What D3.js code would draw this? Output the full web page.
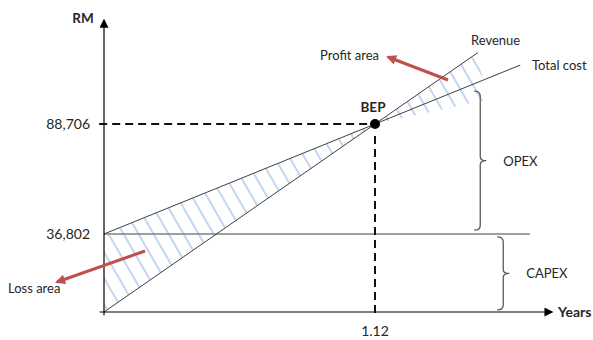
<!DOCTYPE html>
<html>
<head>
<meta charset="utf-8">
<script src="https://cdn.jsdelivr.net/npm/d3@7"></script>
<style>
  body { margin: 0; background: #fff; }
  text { font-family: Lato, "Liberation Sans", sans-serif; fill: #262626; }
</style>
</head>
<body>
<svg id="chart" width="593" height="340"></svg>
<script>
// values
var bepYear = 1.12;
var bepValue = 88706;
var capexValue = 36802;
var revenueYears = [0, 1.12, 1.545];
var revenueValues = [0, 88706, 122400];
var costYears = [0, 1.12, 1.72];
var costValues = [36802, 88706, 116500];
var capexLineYears = [0, 1.76];
var tickValuesY = [36802, 88706];
var tickLabelsY = ["36,802", "88,706"];
var tickValuesX = [1.12];
var tickLabelsX = ["1.12"];
var braceLabels = ["OPEX", "CAPEX"];
var braceSpans = [[38600, 104200], [1000, 35400]];
var braceYears = [1.555, 1.65];

var svg = d3.select("#chart");
var x = d3.scaleLinear().domain([0, 1.12]).range([104, 375]);
var y = d3.scaleLinear().domain([0, 88706]).range([312, 124]);

var line = d3.line().x(function(d) { return x(d[0]); }).y(function(d) { return y(d[1]); });
var revenue = d3.zip(revenueYears, revenueValues);
var cost = d3.zip(costYears, costValues);

var defs = svg.append("defs");
var pat = defs.append("pattern")
  .attr("id", "hatch")
  .attr("patternUnits", "userSpaceOnUse")
  .attr("width", 13).attr("height", 20)
  .attr("patternTransform", "rotate(-30)");
pat.append("line").attr("x1", 3).attr("y1", 0).attr("x2", 3).attr("y2", 20)
  .attr("stroke", "#8eb4e3").attr("stroke-width", 1.1);

function arrowMarker(id, color, w, h) {
  defs.append("marker")
    .attr("id", id)
    .attr("viewBox", "0 0 10 10")
    .attr("refX", 8).attr("refY", 5)
    .attr("markerUnits", "userSpaceOnUse")
    .attr("markerWidth", w).attr("markerHeight", h)
    .attr("orient", "auto")
    .append("path").attr("d", "M0,0L10,5L0,10z").attr("fill", color);
}
arrowMarker("axisArrow", "#000", 10, 9);
arrowMarker("redArrow", "#c0504d", 12, 10);

// hatched areas
var lossPoly = [[0, capexValue], [bepYear, bepValue], [0, 0]];
var profitPoly = [[bepYear, bepValue], [revenueYears[2], revenueValues[2]], [1.58, 100000]];
svg.append("path").attr("d", line(lossPoly) + "Z").attr("fill", "url(#hatch)");
svg.append("path").attr("d", line(profitPoly) + "Z").attr("fill", "url(#hatch)");

// capex line
svg.append("path")
  .attr("d", line(capexLineYears.map(function(t) { return [t, capexValue]; })))
  .attr("stroke", "#808080").attr("stroke-width", 1.5).attr("fill", "none");

// revenue and total cost
svg.append("path").attr("d", line(revenue)).attr("stroke", "#3f3f3f").attr("stroke-width", 1).attr("fill", "none");
svg.append("path").attr("d", line(cost)).attr("stroke", "#3f3f3f").attr("stroke-width", 1).attr("fill", "none");

// axes
svg.append("line").attr("x1", x(0)).attr("y1", y(-1500)).attr("x2", x(0)).attr("y2", y(137500))
  .attr("stroke", "#000").attr("stroke-width", 1.2).attr("marker-end", "url(#axisArrow)");
svg.append("line").attr("x1", x(-0.018)).attr("y1", y(0)).attr("x2", x(1.85)).attr("y2", y(0))
  .attr("stroke", "#000").attr("stroke-width", 1.2).attr("marker-end", "url(#axisArrow)");

// BEP dashes
svg.append("line").attr("x1", x(-0.02)).attr("y1", y(bepValue)).attr("x2", x(bepYear)).attr("y2", y(bepValue))
  .attr("stroke", "#111").attr("stroke-width", 2).attr("stroke-dasharray", "8,5");
svg.append("line").attr("x1", x(bepYear)).attr("y1", y(bepValue) + 12).attr("x2", x(bepYear)).attr("y2", y(-2000))
  .attr("stroke", "#111").attr("stroke-width", 2).attr("stroke-dasharray", "8,5");
svg.append("circle").attr("cx", x(bepYear)).attr("cy", y(bepValue)).attr("r", 5).attr("fill", "#000");

// tick labels
svg.selectAll(".ylab").data(tickValuesY).enter().append("text")
  .attr("x", 90).attr("y", function(d) { return y(d) + 5; })
  .attr("text-anchor", "end").attr("font-size", 14)
  .text(function(d, i) { return tickLabelsY[i]; });
svg.selectAll(".xlab").data(tickValuesX).enter().append("text")
  .attr("x", function(d) { return x(d); }).attr("y", 336)
  .attr("text-anchor", "middle").attr("font-size", 14)
  .text(function(d, i) { return tickLabelsX[i]; });

// axis titles
svg.append("text").attr("x", 83).attr("y", 23).attr("text-anchor", "middle")
  .attr("font-size", 13.5).attr("font-weight", "bold").text("RM");
svg.append("text").attr("x", 558).attr("y", 317)
  .attr("font-size", 14).attr("font-weight", "bold").text("Years");
svg.append("text").attr("x", 373).attr("y", 112).attr("text-anchor", "middle")
  .attr("font-size", 13.5).attr("font-weight", "bold").text("BEP");

// line labels
svg.append("text").attr("x", 471).attr("y", 45).attr("font-size", 13).text("Revenue");
svg.append("text").attr("x", 532).attr("y", 70).attr("font-size", 13).text("Total cost");
svg.append("text").attr("x", 320).attr("y", 60).attr("font-size", 13).text("Profit area");
svg.append("text").attr("x", 8).attr("y", 293).attr("font-size", 13).text("Loss area");

// red arrows
svg.append("line").attr("x1", 448).attr("y1", 80).attr("x2", 388).attr("y2", 57)
  .attr("stroke", "#c0504d").attr("stroke-width", 3).attr("marker-end", "url(#redArrow)");
svg.append("line").attr("x1", 145).attr("y1", 251).attr("x2", 57).attr("y2", 282)
  .attr("stroke", "#c0504d").attr("stroke-width", 3).attr("marker-end", "url(#redArrow)");

// braces
function brace(xp, y0, y1) {
  var m = (y0 + y1) / 2;
  return "M" + (xp - 6) + "," + y0 +
    "Q" + xp + "," + y0 + " " + xp + "," + (y0 + 5) +
    "L" + xp + "," + (m - 4) +
    "Q" + xp + "," + m + " " + (xp + 6) + "," + m +
    "Q" + xp + "," + m + " " + xp + "," + (m + 4) +
    "L" + xp + "," + (y1 - 5) +
    "Q" + xp + "," + y1 + " " + (xp - 6) + "," + y1;
}
braceLabels.forEach(function(lab, i) {
  var xp = x(braceYears[i]);
  var y0 = y(braceSpans[i][1]), y1 = y(braceSpans[i][0]);
  svg.append("path").attr("d", brace(xp, y0, y1))
    .attr("stroke", "#595959").attr("stroke-width", 1.3).attr("fill", "none");
  svg.append("text").attr("x", xp + 23).attr("y", (y0 + y1) / 2 + 5)
    .attr("font-size", 13).text(lab);
});
</script>
</body>
</html>
